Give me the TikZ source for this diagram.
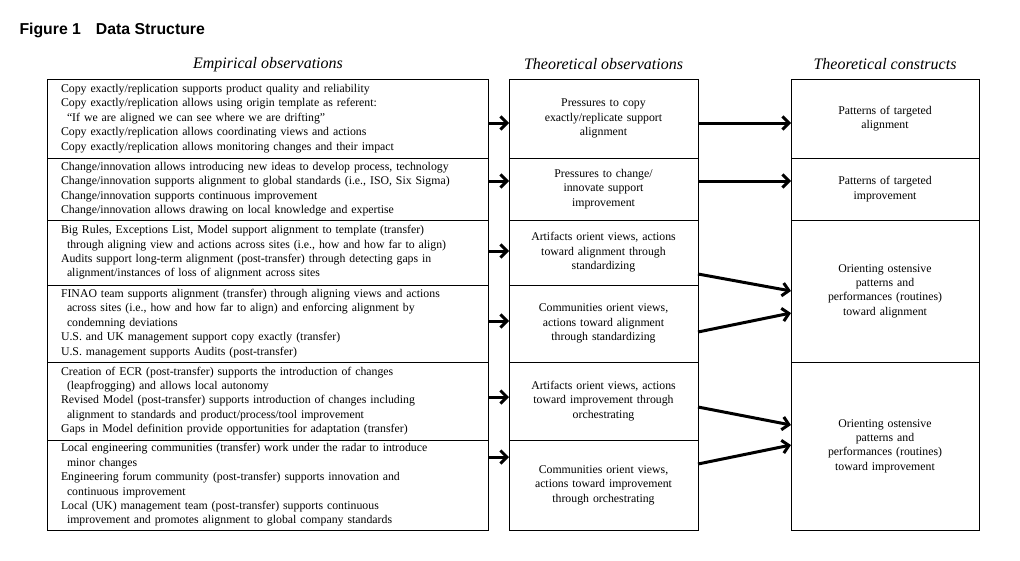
\documentclass[tikz,border=0pt]{standalone}
\usepackage{fontspec}
\setmainfont{Liberation Serif}
\newfontfamily\titlefont{Liberation Sans}
\usetikzlibrary{arrows.meta}
\tikzset{
  box/.style={draw,line width=1pt,anchor=north west,outer sep=0pt,inner ysep=0pt,
    font=\fontsize{11.8}{14.4}\selectfont},
  empbox/.style={box,text width=413pt,inner xsep=14pt,align=left},
  thbox/.style={box,text width=179pt,inner xsep=5pt,align=center},
  conbox/.style={box,text width=178pt,inner xsep=5pt,align=center},
  head/.style={font=\fontsize{16}{18}\selectfont\itshape},
  arr/.style={line width=3pt,-{Straight Barb[length=6.5pt,width=13pt]}}
}
\newcommand{\ind}{\hspace*{6pt}}
\begin{document}
\begin{tikzpicture}[x=1pt,y=-1pt]
\useasboundingbox (0,0) rectangle (1020,560);
\node[anchor=west,font=\titlefont\bfseries\fontsize{15.8}{18}\selectfont] (title) at (16,30) {Figure 1\hspace{0.95em}Data Structure};
\node[head] (hemp) at (268,64.5) {Empirical observations};
\node[head] (hth) at (603.5,64.5) {Theoretical observations};
\node[head] (hcon) at (885,64.5) {Theoretical constructs};
\node[empbox,minimum height=79pt] (e1) at (47,79) {Copy exactly/replication supports product quality and reliability\\
Copy exactly/replication allows using origin template as referent:\\
\ind“If we are aligned we can see where we are drifting”\\
Copy exactly/replication allows coordinating views and actions\\
Copy exactly/replication allows monitoring changes and their impact};
\node[empbox,minimum height=62pt] (e2) at (47,158) {Change/innovation allows introducing new ideas to develop process, technology\\
Change/innovation supports alignment to global standards (i.e., ISO, Six Sigma)\\
Change/innovation supports continuous improvement\\
Change/innovation allows drawing on local knowledge and expertise};
\node[empbox,minimum height=65pt] (e3) at (47,220) {Big Rules, Exceptions List, Model support alignment to template (transfer)\\
\ind through aligning view and actions across sites (i.e., how and how far to align)\\
Audits support long-term alignment (post-transfer) through detecting gaps in\\
\ind alignment/instances of loss of alignment across sites};
\node[empbox,minimum height=77pt] (e4) at (47,285) {FINAO team supports alignment (transfer) through aligning views and actions\\
\ind across sites (i.e., how and how far to align) and enforcing alignment by\\
\ind condemning deviations\\
U.S. and UK management support copy exactly (transfer)\\
U.S. management supports Audits (post-transfer)};
\node[empbox,minimum height=78pt] (e5) at (47,362) {Creation of ECR (post-transfer) supports the introduction of changes\\
\ind (leapfrogging) and allows local autonomy\\
Revised Model (post-transfer) supports introduction of changes including\\
\ind alignment to standards and product/process/tool improvement\\
Gaps in Model definition provide opportunities for adaptation (transfer)};
\node[empbox,minimum height=90pt] (e6) at (47,440) {Local engineering communities (transfer) work under the radar to introduce\\
\ind minor changes\\
Engineering forum community (post-transfer) supports innovation and\\
\ind continuous improvement\\
Local (UK) management team (post-transfer) supports continuous\\
\ind improvement and promotes alignment to global company standards};
\node[thbox,minimum height=79pt] (t1) at (509,79) {Pressures to copy\\exactly/replicate support\\alignment};
\node[thbox,minimum height=62pt] (t2) at (509,158) {Pressures to change/\\innovate support\\improvement};
\node[thbox,minimum height=65pt] (t3) at (509,220) {Artifacts orient views, actions\\toward alignment through\\standardizing};
\node[thbox,minimum height=77pt] (t4) at (509,285) {Communities orient views,\\actions toward alignment\\through standardizing};
\node[thbox,minimum height=78pt] (t5) at (509,362) {Artifacts orient views, actions\\toward improvement through\\orchestrating};
\node[thbox,minimum height=90pt] (t6) at (509,440) {Communities orient views,\\actions toward improvement\\through orchestrating};
\node[conbox,minimum height=79pt] (c1) at (791,79) {Patterns of targeted\\alignment};
\node[conbox,minimum height=62pt] (c2) at (791,158) {Patterns of targeted\\improvement};
\node[conbox,minimum height=142pt] (c3) at (791,220) {Orienting ostensive\\patterns and\\performances (routines)\\toward alignment};
\node[conbox,minimum height=168pt] (c4) at (791,362) {Orienting ostensive\\patterns and\\performances (routines)\\toward improvement};
\foreach \i/\y in {1/123,2/181,3/251,4/321,5/397,6/457}
  \draw[arr] (e\i.east |- 0,\y) -- (t\i.west |- 0,\y);
\draw[arr] (t1.east |- 0,123) -- (c1.west |- 0,123);
\draw[arr] (t2.east |- 0,181) -- (c2.west |- 0,181);
\draw[arr] (t3.east |- 0,274) -- (c3.west |- 0,291);
\draw[arr] (t4.east |- 0,332) -- (c3.west |- 0,313);
\draw[arr] (t5.east |- 0,407) -- (c4.west |- 0,425);
\draw[arr] (t6.east |- 0,464) -- (c4.west |- 0,445);
\end{tikzpicture}
\end{document}
